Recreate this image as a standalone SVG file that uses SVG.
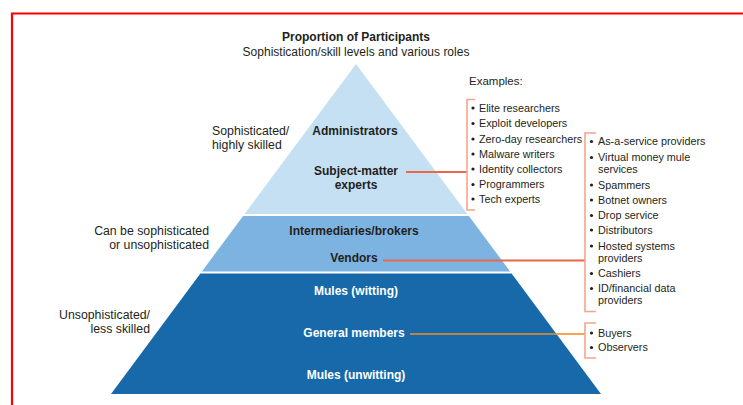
<svg xmlns="http://www.w3.org/2000/svg" width="743" height="405" viewBox="0 0 743 405">
  <style>
    text { font-family: "Liberation Sans", Arial, sans-serif; fill: #231f20; }
    .title { font-size: 12px; font-weight: bold; text-anchor: middle; }
    .sub { font-size: 12px; text-anchor: middle; }
    .side { font-size: 12.3px; }
    .band { font-size: 12px; font-weight: bold; text-anchor: middle; }
    .band.light { fill: #ffffff; }
    .item { font-size: 10.8px; }
    .lead { fill: none; stroke: #e8694a; stroke-width: 2; }
    .bracket { fill: none; stroke: #f4a58c; stroke-width: 1.6; }
    .dot { fill: #231f20; }
  </style>

  <!-- page frame -->
  <path d="M12,405 V13.5 H743" fill="none" stroke="#ff0000" stroke-width="2.2"/>

  <!-- heading -->
  <g id="heading">
    <text class="title" x="356" y="41">Proportion of Participants</text>
    <text class="sub" x="356" y="56">Sophistication/skill levels and various roles</text>
  </g>

  <!-- skill level captions -->
  <g id="level-high">
    <text class="side" x="212" y="135">Sophisticated/</text>
    <text class="side" x="212" y="149">highly skilled</text>
  </g>
  <g id="level-mixed">
    <text class="side" x="209" y="235" text-anchor="end">Can be sophisticated</text>
    <text class="side" x="209" y="249" text-anchor="end">or unsophisticated</text>
  </g>
  <g id="level-low">
    <text class="side" x="150" y="319" text-anchor="end">Unsophisticated/</text>
    <text class="side" x="150" y="333" text-anchor="end">less skilled</text>
  </g>

  <!-- pyramid tiers -->
  <g id="tier-top">
    <polygon points="356,64 467.4,214 244.6,214" fill="#c5dff3"/>
    <text class="band" x="355" y="135">Administrators</text>
    <text class="band" x="356" y="175">Subject-matter</text>
    <text class="band" x="356" y="189">experts</text>
  </g>
  <g id="tier-middle">
    <polygon points="243.1,216 468.9,216 510.1,271.5 201.9,271.5" fill="#7db3e1"/>
    <text class="band" x="354" y="235">Intermediaries/brokers</text>
    <text class="band" x="354" y="262">Vendors</text>
  </g>
  <g id="tier-bottom">
    <polygon points="200.4,273.5 511.6,273.5 601,394 111,394" fill="#1769aa"/>
    <text class="band light" x="356" y="295">Mules (witting)</text>
    <text class="band light" x="354" y="337">General members</text>
    <text class="band light" x="356" y="379">Mules (unwitting)</text>
  </g>

  <!-- connectors from tiers to example lists -->
  <g id="connectors">
    <line class="lead" x1="406" y1="172" x2="467" y2="172"/>
    <path class="bracket" d="M475,99.5 H467 V210 H475"/>
    <line class="lead" x1="383" y1="260.5" x2="585" y2="260.5"/>
    <path class="bracket" d="M596,133 H585 V311.5 H596"/>
    <line x1="410" y1="334" x2="556.5" y2="334" stroke="#b8844a" stroke-width="2"/>
    <line x1="556.5" y1="334" x2="585" y2="334" stroke="#f5a455" stroke-width="2"/>
    <path class="bracket" d="M596,323 H585 V358 H596"/>
  </g>

  <!-- example lists -->
  <g id="examples-experts">
    <text class="item" x="469" y="85" style="font-size:11.5px">Examples:</text>
    <circle class="dot" cx="473" cy="108" r="1.6"/>
    <text class="item" x="479" y="111.5">Elite researchers</text>
    <circle class="dot" cx="473" cy="123.5" r="1.6"/>
    <text class="item" x="479" y="127">Exploit developers</text>
    <circle class="dot" cx="473" cy="139" r="1.6"/>
    <text class="item" x="479" y="142.5">Zero-day researchers</text>
    <circle class="dot" cx="473" cy="154" r="1.6"/>
    <text class="item" x="479" y="157.5">Malware writers</text>
    <circle class="dot" cx="473" cy="169" r="1.6"/>
    <text class="item" x="479" y="172.5">Identity collectors</text>
    <circle class="dot" cx="473" cy="184.5" r="1.6"/>
    <text class="item" x="479" y="188">Programmers</text>
    <circle class="dot" cx="473" cy="199" r="1.6"/>
    <text class="item" x="479" y="202.5">Tech experts</text>
  </g>

  <g id="examples-vendors">
    <circle class="dot" cx="591.5" cy="141.5" r="1.6"/>
    <text class="item" x="598" y="145">As-a-service providers</text>
    <circle class="dot" cx="591.5" cy="157.5" r="1.6"/>
    <text class="item" x="598" y="161">Virtual money mule</text>
    <text class="item" x="598" y="173">services</text>
    <circle class="dot" cx="591.5" cy="185" r="1.6"/>
    <text class="item" x="598" y="188.5">Spammers</text>
    <circle class="dot" cx="591.5" cy="200" r="1.6"/>
    <text class="item" x="598" y="203.5">Botnet owners</text>
    <circle class="dot" cx="591.5" cy="215.5" r="1.6"/>
    <text class="item" x="598" y="219">Drop service</text>
    <circle class="dot" cx="591.5" cy="230" r="1.6"/>
    <text class="item" x="598" y="233.5">Distributors</text>
    <circle class="dot" cx="591.5" cy="246" r="1.6"/>
    <text class="item" x="598" y="249.5">Hosted systems</text>
    <text class="item" x="598" y="261.5">providers</text>
    <circle class="dot" cx="591.5" cy="273.5" r="1.6"/>
    <text class="item" x="598" y="277">Cashiers</text>
    <circle class="dot" cx="591.5" cy="288.5" r="1.6"/>
    <text class="item" x="598" y="292">ID/financial data</text>
    <text class="item" x="598" y="304">providers</text>
  </g>

  <g id="examples-members">
    <circle class="dot" cx="591.5" cy="333" r="1.6"/>
    <text class="item" x="598" y="336.5">Buyers</text>
    <circle class="dot" cx="591.5" cy="347.5" r="1.6"/>
    <text class="item" x="598" y="351">Observers</text>
  </g>
</svg>
